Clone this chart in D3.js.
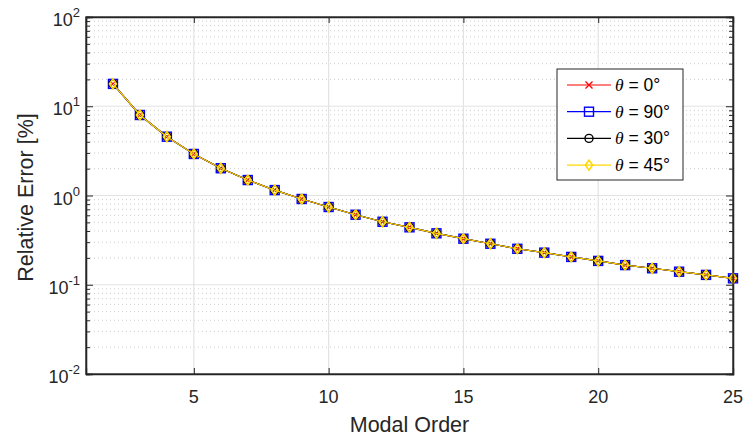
<!DOCTYPE html>
<html><head><meta charset="utf-8">
<script src="https://cdn.jsdelivr.net/npm/d3@7"></script>
<style>body{margin:0;background:#fff}svg{display:block}</style>
</head><body>
<svg id="c" width="748" height="441"></svg>
<script>
const modalOrder = [2,3,4,5,6,7,8,9,10,11,12,13,14,15,16,17,18,19,20,21,22,23,24,25];
const err0  = [17.8,7.98,4.56,2.92,2.02,1.49,1.15,0.914,0.743,0.609,0.508,0.440,0.377,0.328,0.288,0.253,0.229,0.205,0.185,0.166,0.153,0.140,0.129,0.118];
const err90 = [17.8,7.98,4.56,2.92,2.02,1.49,1.15,0.914,0.743,0.609,0.508,0.440,0.377,0.328,0.288,0.253,0.229,0.205,0.185,0.166,0.153,0.140,0.129,0.118];
const err30 = [17.8,7.98,4.56,2.92,2.02,1.49,1.15,0.914,0.743,0.609,0.508,0.440,0.377,0.328,0.288,0.253,0.229,0.205,0.185,0.166,0.153,0.140,0.129,0.118];
const err45 = [17.8,7.98,4.56,2.92,2.02,1.49,1.15,0.914,0.743,0.609,0.508,0.440,0.377,0.328,0.288,0.253,0.229,0.205,0.185,0.166,0.153,0.140,0.129,0.118];
const seriesNames = ["0°","90°","30°","45°"];
const seriesColors = ["#ff0000","#0000ff","#000000","#ffd700"];
const seriesMarkers = ["x","square","circle","diamond"];
const xTicks = [5,10,15,20,25];
const yTicks = [0.01,0.1,1,10,100];
const yExp = ["-2","-1","0","1","2"];

const svg = d3.select("#c");
const L=86,R=733,T=17,B=374;
const x = d3.scaleLinear().domain([1,25]).range([L,R]);
const y = d3.scaleLog().domain([0.01,100]).range([B,T]);
const axisCol="#262626";
const font="'Liberation Sans', Arial, Helvetica, sans-serif";

// minor grid
const minor=[];
for(let e=-2;e<2;e++){for(let k=2;k<=9;k++)minor.push(k*Math.pow(10,e));}
svg.append("g").selectAll("line").data(minor).join("line")
  .attr("x1",L).attr("x2",R).attr("y1",d=>y(d)).attr("y2",d=>y(d))
  .attr("stroke","#cfcfcf").attr("stroke-width",1).attr("stroke-dasharray","1,3");
// major grid
svg.append("g").selectAll("line").data(yTicks.slice(1,-1)).join("line")
  .attr("x1",L).attr("x2",R).attr("y1",d=>y(d)).attr("y2",d=>y(d))
  .attr("stroke","#e3e3e3").attr("stroke-width",1.2);
svg.append("g").selectAll("line").data(xTicks.slice(0,-1)).join("line")
  .attr("y1",T).attr("y2",B).attr("x1",d=>x(d)).attr("x2",d=>x(d))
  .attr("stroke","#e3e3e3").attr("stroke-width",1.2);

// axes via d3 axis (inward ticks)
const xb = svg.append("g").attr("transform",`translate(0,${B})`)
  .call(d3.axisBottom(x).tickValues(xTicks).tickSize(-6).tickFormat(""));
const xt = svg.append("g").attr("transform",`translate(0,${T})`)
  .call(d3.axisTop(x).tickValues(xTicks).tickSize(-6).tickFormat(""));
const yl = svg.append("g").attr("transform",`translate(${L},0)`)
  .call(d3.axisLeft(y).tickValues(yTicks).tickSize(-7).tickFormat(""));
const yr = svg.append("g").attr("transform",`translate(${R},0)`)
  .call(d3.axisRight(y).tickValues(yTicks).tickSize(-7).tickFormat(""));
const ylm = svg.append("g").attr("transform",`translate(${L},0)`)
  .call(d3.axisLeft(y).tickValues(minor).tickSize(-4).tickFormat(""));
const yrm = svg.append("g").attr("transform",`translate(${R},0)`)
  .call(d3.axisRight(y).tickValues(minor).tickSize(-4).tickFormat(""));
[xb,xt,yl,yr,ylm,yrm].forEach(g=>{
  g.selectAll("path").attr("stroke",axisCol).attr("stroke-width",1.3);
  g.selectAll("line").attr("stroke",axisCol).attr("stroke-width",1);
});

// tick labels
svg.append("g").selectAll("text").data(xTicks).join("text")
  .attr("x",d=>x(d)).attr("y",B+29).attr("text-anchor","middle")
  .attr("font-family",font).attr("font-size",18).attr("fill",axisCol).text(d=>d);
const yt = svg.append("g").selectAll("text").data(yTicks).join("text")
  .attr("x",L-6).attr("y",d=>y(d)+9).attr("text-anchor","end")
  .attr("font-family",font).attr("font-size",18).attr("fill",axisCol);
yt.append("tspan").text("10");
yt.append("tspan").attr("dy",-9).attr("font-size",13).text((d,i)=>yExp[i]);

// axis titles
svg.append("text").attr("x",(L+R)/2).attr("y",432).attr("text-anchor","middle")
  .attr("font-family",font).attr("font-size",21.5).attr("fill",axisCol).text("Modal Order");
svg.append("text").attr("transform",`translate(33,${(T+B)/2+2}) rotate(-90)`).attr("text-anchor","middle")
  .attr("font-family",font).attr("font-size",21.5).attr("fill",axisCol).text("Relative Error [%]");

// series
const allSeries=[err0,err90,err30,err45];
const line=d3.line().x((d,i)=>x(modalOrder[i])).y(d=>y(d));
function marker(g,type,color,cx,cy){
  if(type==="x"){
    g.append("path").attr("d",`M${cx-3.5},${cy-3.5}L${cx+3.5},${cy+3.5}M${cx-3.5},${cy+3.5}L${cx+3.5},${cy-3.5}`)
      .attr("stroke",color).attr("stroke-width",1.3).attr("fill","none");
  } else if(type==="square"){
    g.append("rect").attr("x",cx-4.5).attr("y",cy-4.5).attr("width",9).attr("height",9)
      .attr("stroke",color).attr("stroke-width",1.4).attr("fill","none");
  } else if(type==="circle"){
    g.append("circle").attr("cx",cx).attr("cy",cy).attr("r",4)
      .attr("stroke",color).attr("stroke-width",1.4).attr("fill","none");
  } else {
    g.append("path").attr("d",`M${cx},${cy-5}L${cx+3.5},${cy}L${cx},${cy+5}L${cx-3.5},${cy}Z`)
      .attr("stroke",color).attr("stroke-width",1.6).attr("fill","none");
  }
}
allSeries.forEach((s,k)=>{
  const g=svg.append("g");
  g.append("path").datum(s).attr("d",line).attr("fill","none")
    .attr("stroke",seriesColors[k]).attr("stroke-width",1.2);
  s.forEach((v,i)=>marker(g,seriesMarkers[k],seriesColors[k],x(modalOrder[i]),y(v)));
});

// axis box on top
svg.append("rect").attr("x",L).attr("y",T).attr("width",R-L).attr("height",B-T)
  .attr("fill","none").attr("stroke",axisCol).attr("stroke-width",1.3);

// legend
const lg=svg.append("g");
lg.append("rect").attr("x",557).attr("y",69).attr("width",126).attr("height",111)
  .attr("fill","#fff").attr("stroke",axisCol).attr("stroke-width",1);
seriesNames.forEach((n,k)=>{
  const yy=85+k*26.7;
  lg.append("line").attr("x1",567).attr("x2",611).attr("y1",yy).attr("y2",yy)
    .attr("stroke",seriesColors[k]).attr("stroke-width",1.2);
  marker(lg,seriesMarkers[k],seriesColors[k],589,yy);
  const t=lg.append("text").attr("x",615).attr("y",yy+6).attr("font-family",font)
    .attr("font-size",17.5).attr("fill","#000");
  t.append("tspan").attr("font-family","'Liberation Serif', 'Times New Roman', serif").attr("font-style","italic").text("θ");
  t.append("tspan").text(" = "+n);
});
</script>
</body></html>
